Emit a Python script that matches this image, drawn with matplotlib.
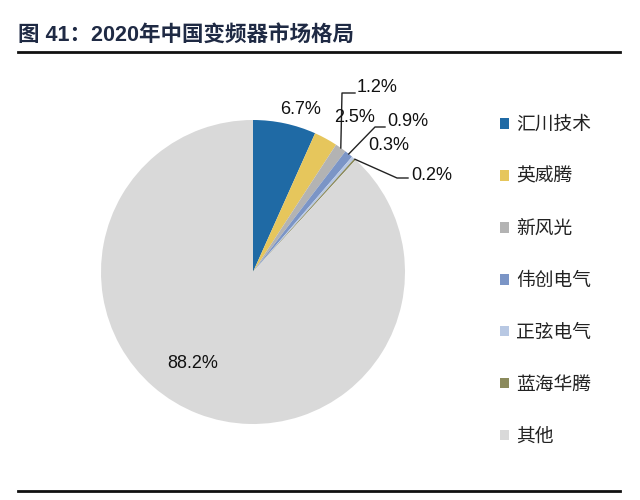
import matplotlib.pyplot as plt
import numpy as np
from matplotlib.lines import Line2D

COMPANIES = ["汇川技术", "英威腾", "新风光", "伟创电气", "正弦电气", "蓝海华腾", "其他"]
SHARES = [6.7, 2.5, 1.2, 0.9, 0.3, 0.2, 88.2]
COLORS = ["#1f6aa5", "#e6c65c", "#b3b3b3", "#7b95c6", "#b8c8e3", "#8b8a5c", "#d9d9d9"]
TITLE = "图 41：2020年中国变频器市场格局"

CJK = ["Noto Sans CJK SC", "DejaVu Sans"]
LATIN = ["Liberation Sans", "Noto Sans CJK SC"]

W, H = 640, 500
# pie centre and radius, in canvas pixels
CX, CY, R = 253, 272, 152

# label anchor (px), alignment, leader waypoints after the wedge edge (px)
LABEL_LAYOUT = [
    ((301, 109), "center", None),
    ((355, 117), "center", None),
    ((357, 88), "left", [(342, 93), (355, 93)]),
    ((387, 121), "left", [(375, 127), (385, 127)]),
    ((389, 146), "center", None),
    ((411, 175), "left", [(397, 178), (408, 178)]),
    ((193, 364), "center", None),
]


def to_data(xp: float, yp: float) -> tuple[float, float]:
    return (xp - CX) / R, (CY - yp) / R


fig = plt.figure(figsize=(W / 100, H / 100), dpi=100)
ax = fig.add_axes([(CX - R) / W, (H - CY - R) / H, 2 * R / W, 2 * R / H])
wedges, _ = ax.pie(
    SHARES,
    colors=COLORS,
    startangle=90,
    counterclock=False,
    radius=1,
    wedgeprops=dict(linewidth=0),
)
ax.set_xlim(-1, 1)
ax.set_ylim(-1, 1)
ax.axis("off")

for w, share, (anchor, ha, leader) in zip(wedges, SHARES, LABEL_LAYOUT):
    tx, ty = to_data(*anchor)
    ax.text(tx, ty, f"{share:.1f}%", ha=ha, va="center", fontsize=13,
            family=LATIN, color="#111111")
    if leader:
        mid = np.deg2rad((w.theta1 + w.theta2) / 2)
        pts = [(np.cos(mid), np.sin(mid))] + [to_data(*p) for p in leader]
        xs, ys = zip(*pts)
        ax.plot(xs, ys, color="#222222", lw=1, clip_on=False)

fig.legend(
    wedges,
    COMPANIES,
    loc="upper left",
    bbox_to_anchor=(500 / W, 1 - 114 / H),
    frameon=False,
    prop=dict(family=CJK, size=13.5),
    labelcolor="#222222",
    handlelength=0.5,
    handleheight=0.5,
    handletextpad=0.35,
    labelspacing=1.65,
    borderpad=0,
    borderaxespad=0,
)

fig.text(18 / W, 1 - 35 / H, TITLE, fontsize=15.5, fontweight="bold",
         family=LATIN, color="#1f2a44", va="center", ha="left")
fig.add_artist(Line2D([18 / W, 620 / W], [1 - 52 / H] * 2, color="#111111", lw=2))
fig.add_artist(Line2D([18 / W, 620 / W], [1 - 491 / H] * 2, color="#111111", lw=2))

fig.savefig("out.png", dpi=100)
